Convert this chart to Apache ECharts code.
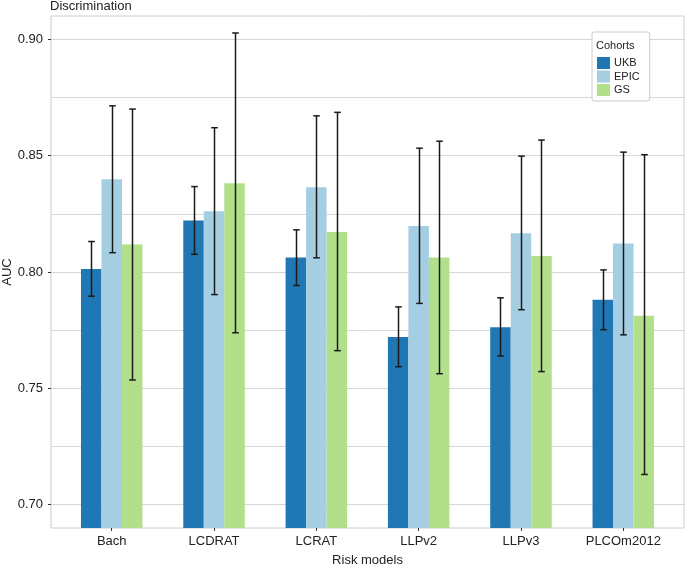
<!DOCTYPE html>
<html>
<head>
<meta charset="utf-8">
<script src="https://cdn.jsdelivr.net/npm/echarts@6/dist/echarts.min.js"></script>
<style>
html,body{margin:0;padding:0;background:#fff;}
#chart{width:685px;height:567px;}
</style>
</head>
<body>
<div id="chart"></div>
<script>
var categories = ['Bach', 'LCDRAT', 'LCRAT', 'LLPv2', 'LLPv3', 'PLCOm2012'];
var cohorts = ['UKB', 'EPIC', 'GS'];

var ukb      = [0.8013, 0.8221, 0.8062, 0.7721, 0.7763, 0.7881];
var ukbLow   = [0.7896, 0.8076, 0.7942, 0.7593, 0.7639, 0.7752];
var ukbHigh  = [0.8131, 0.8367, 0.8181, 0.7850, 0.7889, 0.8009];

var epic     = [0.8398, 0.8261, 0.8364, 0.8198, 0.8167, 0.8122];
var epicLow  = [0.8083, 0.7903, 0.8061, 0.7865, 0.7838, 0.7730];
var epicHigh = [0.8714, 0.8620, 0.8671, 0.8532, 0.8498, 0.8515];

var gs       = [0.8118, 0.8381, 0.8172, 0.8062, 0.8069, 0.7812];
var gsLow    = [0.7536, 0.7739, 0.7662, 0.7563, 0.7572, 0.7130];
var gsHigh   = [0.8700, 0.9027, 0.8686, 0.8562, 0.8567, 0.8504];

var yTickLabels = [0.70, 0.75, 0.80, 0.85, 0.90];
var yGridValues = [0.700, 0.725, 0.750, 0.775, 0.800, 0.825, 0.850, 0.875, 0.900];

var colors = ['#1f78b4', '#a6cee3', '#b2df8a'];
var FONT = '"Liberation Sans", Arial, Helvetica, sans-serif';
var TXT = '#222222';
var BAR_W = 20.5;

var values = [ukb, epic, gs];
var lows = [ukbLow, epicLow, gsLow];
var highs = [ukbHigh, epicHigh, gsHigh];

var series = [];
cohorts.forEach(function (name, j) {
  series.push({
    name: name,
    type: 'bar',
    barWidth: BAR_W,
    barGap: '0%',
    itemStyle: { color: colors[j] },
    data: values[j].map(function (v, i) { return [i, v]; }),
    z: 2
  });
});
cohorts.forEach(function (name, j) {
  var offset = (j - 1) * BAR_W;
  series.push({
    name: name + ' CI',
    type: 'custom',
    z: 5,
    data: lows[j].map(function (lo, i) { return [i, lo, highs[j][i]]; }),
    renderItem: function (params, api) {
      var x = api.value(0);
      var p1 = api.coord([x, api.value(1)]);
      var p2 = api.coord([x, api.value(2)]);
      var cx = Math.round(p1[0] + offset) + 0.5;
      var w = 3.3;
      var st = { stroke: '#1a1a1a', lineWidth: 1.5 };
      return {
        type: 'group',
        children: [
          { type: 'line', shape: { x1: cx, y1: p1[1], x2: cx, y2: p2[1] }, style: st },
          { type: 'line', shape: { x1: cx - w, y1: p1[1], x2: cx + w, y2: p1[1] }, style: st },
          { type: 'line', shape: { x1: cx - w, y1: p2[1], x2: cx + w, y2: p2[1] }, style: st }
        ]
      };
    }
  });
});

var chart = echarts.init(document.getElementById('chart'), null, { renderer: 'canvas' });
chart.setOption({
  animation: false,
  backgroundColor: '#ffffff',
  textStyle: { fontFamily: FONT },
  grid: {
    left: 51, right: 1, top: 16, bottom: 39,
    containLabel: false,
    outerBoundsMode: 'none',
    show: true, borderColor: '#cccccc', borderWidth: 1, backgroundColor: 'transparent'
  },
  legend: {
    data: cohorts,
    orient: 'vertical',
    left: 592, top: 32,
    padding: [25, 10, 5, 5],
    itemWidth: 13, itemHeight: 12, itemGap: 1.5,
    icon: 'rect',
    textStyle: { fontSize: 11, color: TXT, fontFamily: FONT, padding: [0, 0, 0, -1] },
    backgroundColor: '#ffffff',
    borderColor: '#cccccc', borderWidth: 1, borderRadius: 2
  },
  xAxis: {
    type: 'value',
    min: -0.5934, max: 5.5934,
    name: 'Risk models',
    nameLocation: 'middle',
    nameGap: 26,
    nameTextStyle: { fontSize: 13, color: TXT, fontFamily: FONT },
    axisLine: { show: false },
    splitLine: { show: false },
    axisTick: { show: true, length: 3, lineStyle: { color: '#333333' }, customValues: [0, 1, 2, 3, 4, 5] },
    axisLabel: {
      customValues: [0, 1, 2, 3, 4, 5],
      margin: 7, fontSize: 13, color: TXT, fontFamily: FONT,
      formatter: function (v) { return categories[Math.round(v)]; }
    }
  },
  yAxis: [
    {
      type: 'value', min: 0.69, max: 0.91,
      axisLine: { show: false },
      axisTick: { show: false, customValues: yGridValues },
      axisLabel: { show: false, customValues: yGridValues },
      splitLine: { show: true, lineStyle: { color: '#d6d6d6', width: 1 } }
    },
    {
      type: 'value', min: 0.69, max: 0.91, position: 'left',
      axisLine: { show: false },
      splitLine: { show: false },
      axisTick: { show: true, length: 3, lineStyle: { color: '#333333' }, customValues: yTickLabels },
      axisLabel: {
        customValues: yTickLabels, margin: 8, fontSize: 13, color: TXT, fontFamily: FONT,
        formatter: function (v) { return v.toFixed(2); }
      }
    }
  ],
  graphic: [
    { type: 'text', x: 50, y: 6, z: 100,
      style: { text: 'Discrimination', font: '13px ' + FONT, fill: TXT, verticalAlign: 'middle' } },
    { type: 'text', x: 7, y: 272, rotation: Math.PI / 2, z: 100,
      style: { text: 'AUC', font: '13px ' + FONT, fill: TXT, align: 'center', verticalAlign: 'middle' } },
    { type: 'text', x: 596, y: 46, z: 100,
      style: { text: 'Cohorts', font: '11px ' + FONT, fill: TXT, verticalAlign: 'middle' } }
  ],
  series: series
});
</script>
</body>
</html>
